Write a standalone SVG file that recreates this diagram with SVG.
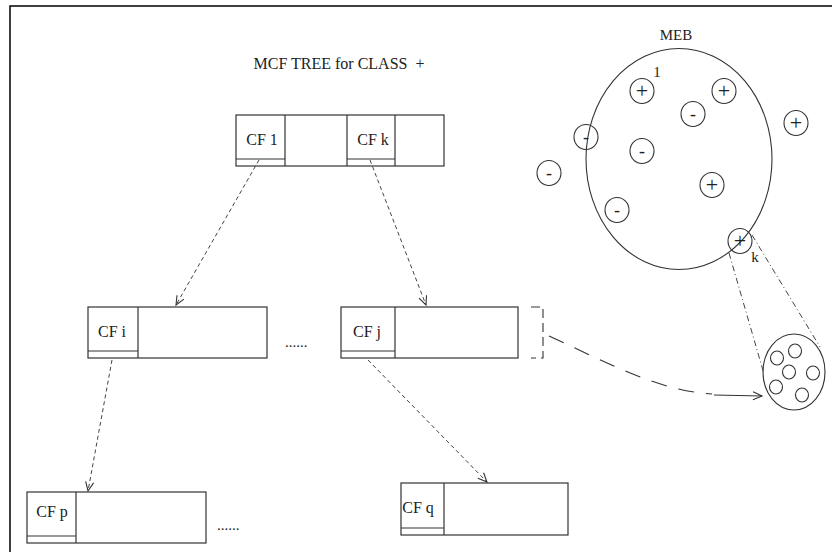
<svg xmlns="http://www.w3.org/2000/svg" width="832" height="552" viewBox="0 0 832 552">
  <style>
    .box { fill: none; stroke: #333; stroke-width: 1.2; }
    .lbl { font-family: "Liberation Serif", "DejaVu Serif", serif; font-size: 16px; fill: #222; text-anchor: middle; }
    .title { font-family: "Liberation Serif", "DejaVu Serif", serif; font-size: 16px; fill: #222; text-anchor: middle; white-space: pre; }
    .sign { font-family: "Liberation Serif", "DejaVu Serif", serif; font-size: 22px; fill: #222; text-anchor: middle; }
    .minus { font-family: "Liberation Serif", "DejaVu Serif", serif; font-size: 18px; fill: #222; text-anchor: middle; }
    .pt { fill: none; stroke: #333; stroke-width: 1.1; }
    .dots { font-family: "Liberation Serif", "DejaVu Serif", serif; font-size: 15px; fill: #222; }
    .tree { fill: none; stroke: #444; stroke-width: 1; stroke-dasharray: 4 3; }
    .dashdot { fill: none; stroke: #444; stroke-width: 1; stroke-dasharray: 6 3 1 3; }
    .long { fill: none; stroke: #333; stroke-width: 1.1; stroke-dasharray: 16 12; }
  </style>
  <defs>
    <marker id="vhead" markerWidth="12" markerHeight="10" refX="10" refY="5" orient="auto" markerUnits="userSpaceOnUse">
      <path d="M1,1 L10,5 L1,9" fill="none" stroke="#333" stroke-width="1.1"/>
    </marker>
  </defs>

  <rect width="832" height="552" fill="#ffffff"/>

  <!-- frame -->
  <g id="frame" fill="none" stroke="#000" stroke-width="1.5">
    <path d="M832,6 L10,6 L10,552"/>
  </g>

  <text class="title" x="339" y="69" xml:space="preserve">MCF TREE for CLASS  +</text>

  <!-- root node -->
  <g id="node-root">
    <rect class="box" x="236" y="115" width="208" height="51"/>
    <line class="box" x1="285" y1="115" x2="285" y2="166"/>
    <line class="box" x1="347" y1="115" x2="347" y2="166"/>
    <line class="box" x1="395" y1="115" x2="395" y2="166"/>
    <line class="box" x1="236" y1="159" x2="285" y2="159"/>
    <line class="box" x1="347" y1="159" x2="395" y2="159"/>
    <text class="lbl" x="262" y="145">CF 1</text>
    <text class="lbl" x="373" y="145">CF k</text>
  </g>

  <!-- node i -->
  <g id="node-i">
    <rect class="box" x="88" y="307" width="179" height="51"/>
    <line class="box" x1="138" y1="307" x2="138" y2="358"/>
    <line class="box" x1="88" y1="351" x2="138" y2="351"/>
    <text class="lbl" x="112" y="337">CF i</text>
  </g>

  <text class="dots" x="285" y="347">......</text>

  <!-- node j -->
  <g id="node-j">
    <rect class="box" x="341" y="307" width="177" height="51"/>
    <line class="box" x1="395" y1="307" x2="395" y2="358"/>
    <line class="box" x1="341" y1="351" x2="395" y2="351"/>
    <text class="lbl" x="367" y="337">CF j</text>
    <path d="M531,307 L543,307 L543,358 L531,358" fill="none" stroke="#333" stroke-width="1.1" stroke-dasharray="9 5"/>
  </g>

  <!-- node p -->
  <g id="node-p">
    <rect class="box" x="27" y="492" width="179" height="51"/>
    <line class="box" x1="76" y1="492" x2="76" y2="543"/>
    <line class="box" x1="27" y1="536" x2="76" y2="536"/>
    <text class="lbl" x="52" y="517">CF p</text>
  </g>

  <text class="dots" x="217" y="530">......</text>

  <!-- node q -->
  <g id="node-q">
    <rect class="box" x="401" y="483" width="167" height="52"/>
    <line class="box" x1="444" y1="483" x2="444" y2="535"/>
    <line class="box" x1="401" y1="528" x2="444" y2="528"/>
    <text class="lbl" x="418" y="513">CF q</text>
  </g>

  <!-- MEB ball with points -->
  <g id="meb">
    <text class="lbl" x="676" y="40" style="font-size:15px">MEB</text>
    <ellipse class="pt" cx="679" cy="159" rx="93" ry="110.5"/>
    <text class="lbl" x="657" y="77" style="font-size:15px">1</text>
    <text class="lbl" x="755" y="262" style="font-size:15px">k</text>

    <ellipse class="pt" cx="642" cy="91" rx="12" ry="12.5"/>
    <text class="sign" x="642" y="98">+</text>
    <ellipse class="pt" cx="693" cy="114" rx="12" ry="12.5"/>
    <text class="minus" x="693" y="120">-</text>
    <ellipse class="pt" cx="724" cy="91" rx="12" ry="12.5"/>
    <text class="sign" x="724" y="98">+</text>
    <ellipse class="pt" cx="796" cy="123" rx="12" ry="12.5"/>
    <text class="sign" x="796" y="130">+</text>
    <ellipse class="pt" cx="586" cy="137" rx="12" ry="12.5"/>
    <text class="minus" x="586" y="143">-</text>
    <ellipse class="pt" cx="642" cy="151" rx="12" ry="12.5"/>
    <text class="minus" x="642" y="157">-</text>
    <ellipse class="pt" cx="549" cy="173" rx="12" ry="12.5"/>
    <text class="minus" x="549" y="179">-</text>
    <ellipse class="pt" cx="712" cy="185" rx="12" ry="12.5"/>
    <text class="sign" x="712" y="192">+</text>
    <ellipse class="pt" cx="617" cy="210" rx="12" ry="12.5"/>
    <text class="minus" x="617" y="216">-</text>
    <ellipse class="pt" cx="740" cy="241" rx="12" ry="12.5"/>
    <text class="sign" x="740" y="248">+</text>
  </g>

  <!-- magnified point k -->
  <g id="detail-k">
    <ellipse class="pt" cx="794" cy="372" rx="31" ry="38"/>
    <ellipse class="pt" cx="777" cy="358" rx="6.5" ry="7"/>
    <ellipse class="pt" cx="795" cy="351" rx="6.5" ry="7"/>
    <ellipse class="pt" cx="789" cy="372" rx="6.5" ry="7"/>
    <ellipse class="pt" cx="813" cy="373" rx="6.5" ry="7"/>
    <ellipse class="pt" cx="776" cy="387" rx="6.5" ry="7"/>
    <ellipse class="pt" cx="802" cy="395" rx="6.5" ry="7"/>
  </g>

  <!-- connectors -->
  <g id="connectors">
    <line class="tree" x1="259" y1="160" x2="176" y2="305" marker-end="url(#vhead)"/>
    <line class="tree" x1="370" y1="160" x2="426" y2="305" marker-end="url(#vhead)"/>
    <line class="tree" x1="112" y1="360" x2="88" y2="491" marker-end="url(#vhead)"/>
    <line class="tree" x1="368" y1="360" x2="487" y2="482" marker-end="url(#vhead)"/>
    <line class="dashdot" x1="729" y1="253" x2="764" y2="374"/>
    <line class="dashdot" x1="752" y1="235" x2="820" y2="347"/>
    <path class="long" d="M549,336 C610,364 650,386 700,393 L712,394"/>
    <line x1="714" y1="395" x2="762" y2="396" stroke="#333" stroke-width="1.1" marker-end="url(#vhead)"/>
  </g>
</svg>
